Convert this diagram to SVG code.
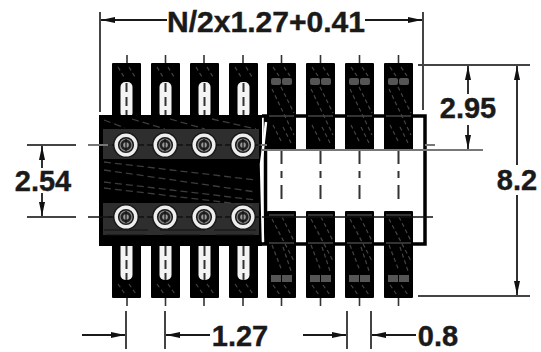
<svg xmlns="http://www.w3.org/2000/svg" width="541" height="352" viewBox="0 0 541 352">
<style>
.dim{stroke:#1a1a1a;stroke-width:1.8;fill:none}
.ext{stroke:#444;stroke-width:2;fill:none}
.g{stroke:#444;stroke-width:1.2;stroke-dasharray:4 3;fill:none}
.c{stroke:#333;stroke-width:1.6;fill:none}
.t{font-family:"Liberation Sans",Arial,sans-serif;font-weight:bold;font-size:29px;fill:#1a1a1a;stroke:#1a1a1a;stroke-width:.4;text-anchor:middle}
</style>
<defs>
<marker id="ah" viewBox="0 0 14 6" refX="14" refY="3" markerWidth="14" markerHeight="6" markerUnits="userSpaceOnUse" orient="auto-start-reverse"><path d="M0 0L14 3L0 6Z" fill="#111"/></marker>
<g id="pinTopL">
<rect x="0" y="0" width="29" height="55" rx="1" fill="#000"/>
<path class="g" d="M6 4L12 14M17 4L23 14"/>
<rect x="8.500" y="19" width="12" height="36" rx="5" fill="#f4f4f4"/>
<path d="M14.500 20V55" stroke="#333" stroke-width="2" stroke-dasharray="9 5 9 4 12 0"/>
</g>
<g id="pinBotL">
<rect x="0" y="0" width="29" height="53" rx="1" fill="#000"/>
<path d="M8.500 0H20.500V30a5 5 0 0 1-5 5h-2a5 5 0 0 1-5-5Z" fill="#f4f4f4"/>
<path d="M14.500 0V35" stroke="#333" stroke-width="2" stroke-dasharray="11 4 9 4 7 0"/>
<path class="g" d="M6 39L13 49M17 39L24 49"/>
</g>
<g id="pinTopR">
<rect x="0" y="0" width="29" height="87" rx="1" fill="#000"/>
<rect x="4" y="15" width="10" height="7" rx="2" fill="#555"/>
<rect x="15" y="15" width="10" height="7" rx="2" fill="#555"/>
<path class="g" d="M6 4L12 13M17 4L23 13M5 26L27 72M14 24L27 50M6 62L15 80M16 64L24 80"/>
<path d="M2 53H27" stroke="#444" stroke-width="1.500"/>
</g>
<g id="pinBotR">
<rect x="0" y="0" width="29" height="87" rx="1" fill="#000"/>
<rect x="4" y="64" width="10" height="7" fill="#555"/>
<rect x="15" y="64" width="10" height="7" fill="#555"/>
<path class="g" d="M5 8L27 50M15 6L27 30M5 34L15 60M16 36L24 60M6 74L13 84M17 74L24 84"/>
<path d="M2 4H27M2 32H27" stroke="#444" stroke-width="1.500"/>
</g>
<g id="hole">
<circle r="13" fill="#1a1a1a"/>
<circle r="9.800" fill="none" stroke="#eee" stroke-width="3.400"/>
<circle r="6" fill="#222" stroke="#888" stroke-width="1.200"/>
<circle r="2.800" fill="#999"/>
<path d="M-18 0H-12M12 0H18" stroke="#111" stroke-width="1.500"/>
<path d="M0-6V6" stroke="#111" stroke-width="1.200"/>
</g>
</defs>

<g id="outline">
<path d="M262 116H425V244H262" fill="none" stroke="#000" stroke-width="3.500"/>
<path d="M265.500 116V244" fill="none" stroke="#000" stroke-width="3.500"/>
</g>

<g id="pins-top-right">
<use href="#pinTopR" x="267" y="63"/><use href="#pinTopR" x="306" y="63"/><use href="#pinTopR" x="345" y="63"/><use href="#pinTopR" x="384" y="63"/>
</g>
<g id="pins-bottom-right">
<use href="#pinBotR" x="267" y="211"/><use href="#pinBotR" x="306" y="211"/><use href="#pinBotR" x="345" y="211"/><use href="#pinBotR" x="384" y="211"/>
</g>
<g id="pins-top-left">
<use href="#pinTopL" x="112" y="63"/><use href="#pinTopL" x="151" y="63"/><use href="#pinTopL" x="190" y="63"/><use href="#pinTopL" x="229" y="63"/>
</g>
<g id="pins-bottom-left">
<use href="#pinBotL" x="112" y="245"/><use href="#pinBotL" x="151" y="245"/><use href="#pinBotL" x="190" y="245"/><use href="#pinBotL" x="229" y="245"/>
</g>

<g id="body">
<rect x="99" y="115" width="163" height="131" fill="#000"/>
<rect x="103" y="129" width="156" height="30" fill="#2e2e2e"/>
<rect x="103" y="203" width="156" height="32" fill="#2e2e2e"/>
<path d="M104 120L125 128M132 119L165 129M170 119L205 129M212 119L256 129M104 162L256 180M104 170L256 192M104 182L256 200M104 188L256 206" stroke="#3c3c3c" stroke-width="1.300" stroke-dasharray="7 4" fill="none"/>
<path d="M104 230H148M160 230H205M214 230H256M106 235H145M164 235H200M216 235H254" stroke="#111" stroke-width="1.200" fill="none"/>
<path d="M266 122Q263 150 261 164Q262 205 263 242" fill="none" stroke="#fff" stroke-width="2.500"/>
</g>

<g id="connectors">
<path d="M127 55V63M165.500 55V63M204 55V63M243 55V63M281.500 55V63M320.500 55V63M359.500 55V63M398.500 55V63" class="c"/>
<path d="M127 298V306M165.500 298V306M204 298V306M243 298V306M281.500 298V306M320.500 298V306M359.500 298V306M398.500 298V306" class="c"/>
<path d="M281.500 150V211M320.500 150V211M359.500 150V211M398.500 150V211" stroke="#333" stroke-width="2" stroke-dasharray="14 7 7 7 14" fill="none"/>
<path d="M88 145H112M258 145H267M425 145H435" stroke="#777" stroke-width="2" fill="none"/>
<path d="M262 150H483" stroke="#777" stroke-width="2" fill="none"/>
<path d="M88 217H112M262 217H433" stroke="#111" stroke-width="1.500" fill="none"/>
<path class="ext" d="M100 12V112M423 12V110M418 65H530M418 296H530M27 145H76M27 217H76"/>
<path class="ext" d="M126 311V349M165 311V349M347 311V349M371 311V349"/>
<path class="dim" marker-start="url(#ah)" d="M101 20H167"/>
<path class="dim" marker-end="url(#ah)" d="M365 20H422"/>
<path class="dim" marker-start="url(#ah)" d="M468 66V94"/>
<path class="dim" marker-end="url(#ah)" d="M468 125V149"/>
<path class="dim" marker-start="url(#ah)" d="M517 66V165"/>
<path class="dim" marker-end="url(#ah)" d="M517 195V295"/>
<path class="dim" marker-start="url(#ah)" d="M42 146V168"/>
<path class="dim" marker-end="url(#ah)" d="M42 193V216"/>
<path class="dim" marker-end="url(#ah)" d="M82 335H125"/>
<path class="dim" marker-start="url(#ah)" d="M166 335H210"/>
<path class="dim" marker-end="url(#ah)" d="M303 335H346"/>
<path class="dim" marker-start="url(#ah)" d="M372 335H416"/>
</g>

<g id="holes">
<use href="#hole" x="126" y="145"/><use href="#hole" x="165" y="145"/><use href="#hole" x="204" y="145"/><use href="#hole" x="243" y="145"/>
<use href="#hole" x="126" y="217"/><use href="#hole" x="165" y="217"/><use href="#hole" x="204" y="217"/><use href="#hole" x="243" y="217"/>
</g>

<g id="labels">
<text class="t" x="266" y="32" textLength="198" lengthAdjust="spacingAndGlyphs">N/2x1.27+0.41</text>
<text class="t" x="468" y="118">2.95</text>
<text class="t" x="517" y="190">8.2</text>
<text class="t" x="43" y="191">2.54</text>
<text class="t" x="240" y="346">1.27</text>
<text class="t" x="438" y="346">0.8</text>
</g>
</svg>
